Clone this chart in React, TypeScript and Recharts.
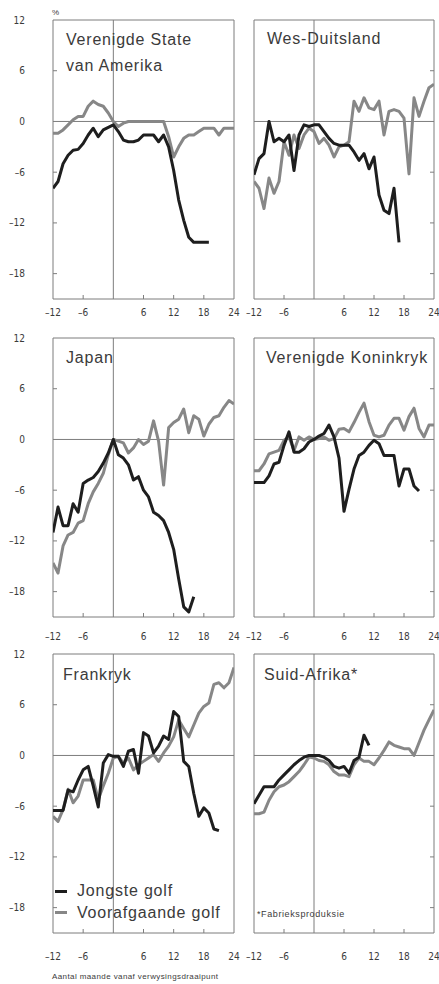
import React from 'react';
import { LineChart, Line, XAxis, YAxis, ReferenceLine, ReferenceArea } from 'recharts';

// months from the turning point
const months = [-12, -11, -10, -9, -8, -7, -6, -5, -4, -3, -2, -1, 0, 1, 2, 3, 4, 5, 6, 7, 8, 9, 10, 11, 12, 13, 14, 15, 16, 17, 18, 19, 20, 21, 22, 23, 24];
const xTicks = [-12, -6, 6, 12, 18, 24];
const yTicks = [-18, -12, -6, 0, 6, 12];

// series start at month -12; shorter arrays end early
const usLatest = [-7.9, -7.1, -5, -4, -3.4, -3.3, -2.6, -1.6, -0.8, -1.8, -1, -0.7, -0.4, -1.2, -2.2, -2.4, -2.4, -2.2, -1.6, -1.6, -1.6, -2.4, -1.6, -3, -5.8, -9.3, -11.7, -13.7, -14.3, -14.3, -14.3, -14.3];
const usPrevious = [-1.4, -1.4, -1, -0.4, 0.2, 0.6, 0.6, 1.8, 2.4, 2, 1.8, 1, 0, -0.6, -0.2, 0, 0, 0, 0, 0, 0, 0, 0, -1.8, -4.2, -3, -2, -1.6, -1.6, -1.2, -0.8, -0.8, -0.8, -1.6, -0.8, -0.8, -0.8];

const deLatest = [-6.3, -4.4, -3.8, 0, -2.4, -2, -2.4, -1.6, -5.8, -1.6, -0.4, -0.6, -0.4, -0.4, -1.2, -2, -2.6, -2.8, -2.8, -2.8, -3.6, -4.6, -3.8, -5.6, -4.2, -8.7, -10.5, -10.9, -7.9, -14.3];
const dePrevious = [-7.1, -7.9, -10.3, -6.7, -8.5, -7.1, -2.4, -4, -1.6, -3.2, -1.6, -0.8, -1.2, -2.6, -2, -2.8, -4.2, -3, -2.8, -2.4, 2.4, 1.2, 2.8, 1.6, 1.4, 2.4, -1.6, 1.2, 1.4, 1.2, 0.4, -6.2, 2.8, 0.6, 2.4, 4, 4.4];

const jpLatest = [-11, -8, -10.2, -10.2, -7.6, -8.6, -5.2, -4.8, -4.5, -3.8, -2.8, -1.6, 0, -1.8, -2.2, -3, -4.8, -4.4, -6, -6.8, -8.6, -9, -9.6, -11, -13, -16.5, -19.8, -20.4, -18.6];
const jpPrevious = [-14.6, -15.8, -12.6, -11.3, -11, -9.9, -9.6, -7.6, -6.2, -5.2, -4, -1.8, 0, -0.2, -0.4, -1.6, -1, 0, -0.6, -0.2, 2.2, -0.2, -5.4, 1.4, 2, 2.4, 3.6, 0.8, 2.8, 2.4, 0.4, 1.8, 2.6, 2.8, 3.8, 4.6, 4.2];

const ukLatest = [-5.1, -5.1, -5.1, -4.3, -2.9, -2.7, -0.7, 0.9, -1.5, -1.5, -1.1, -0.3, 0, 0.4, 0.7, 1.7, 0.3, -2.2, -8.5, -5.9, -3.5, -1.9, -1.5, -0.7, -0.1, -0.5, -1.9, -1.9, -1.9, -5.5, -3.5, -3.5, -5.5, -6.1];
const ukPrevious = [-3.7, -3.7, -2.9, -1.7, -1.5, -1.3, -0.1, 0.3, -1.3, 0.3, -0.1, 0.3, 0, 0.1, 0.3, -0.1, 0.1, 1.2, 1.3, 0.9, 2, 3.2, 4.3, 2.1, 0.5, 0.3, 0.5, 1.7, 2.5, 2.5, 1.1, 2.7, 3.7, 1.3, 0.3, 1.7, 1.7];

const frLatest = [-6.5, -6.5, -6.5, -4.1, -4.3, -2.9, -1.7, -1.3, -3.6, -6.1, -0.9, 0.1, -0.1, -0.1, -1.3, 0.5, 0.7, -2.1, 2.7, 2.3, 0.3, 1.1, 2.3, 1.9, 5.2, 4.6, -0.7, -1.3, -4.5, -7.2, -6.2, -6.8, -8.7, -8.9];
const frPrevious = [-7.2, -7.8, -6.4, -4, -5.6, -4.8, -2.9, -2.9, -2.9, -5.2, -3.6, -2.1, -0.3, -0.1, -0.9, -0.3, -1.7, -1.1, -0.7, -0.3, 0.1, -0.7, 0.3, 1.1, 2.2, 4.2, 3.2, 2.2, 3.6, 5, 5.8, 6.2, 8.4, 8.6, 8, 8.6, 10.4];

const zaLatest = [-5.7, -4.7, -3.7, -3.7, -3.7, -2.9, -2.3, -1.7, -1.1, -0.6, -0.2, 0, 0, 0, -0.2, -0.6, -1.3, -1.5, -1.3, -2.1, -0.6, -0.2, 2.4, 1.2];
const zaPrevious = [-6.9, -6.9, -6.7, -5.3, -4.3, -3.7, -3.5, -3.1, -2.5, -1.9, -1.1, -0.2, -0.3, -0.6, -0.7, -1.1, -1.9, -2.3, -2.3, -2.5, -1.1, -0.3, -0.7, -0.7, -1.1, -0.3, 0.6, 1.6, 1.2, 1, 0.8, 0.8, 0, 1.5, 3, 4.2, 5.4];

const FRAME = '#7d7d7d';
const TEXT = '#3b3b3b';
const NUM_FONT = '"Liberation Sans Narrow", "DejaVu Sans Condensed", sans-serif';
const TITLE_FONT = '"Liberation Sans", Arial, sans-serif';

// plot box: left column x 53..234, right column x 254..434
const COLS = [
  { left: 0, width: 240, yAxisW: 30, margin: { top: 20, right: 6, bottom: 1, left: 23 } },
  { left: 240, width: 199, yAxisW: 4, margin: { top: 20, right: 5, bottom: 1, left: 10 } },
];
const ROW_TOPS = [0, 318, 634];
const LABEL_DROP = [13, 19, 23];
const CHART_H = 330;
const X_AXIS_H = 30;

function buildRows(latest: number[], previous: number[]) {
  return months.map((m, i) => ({
    m,
    latest: i < latest.length ? latest[i] : null,
    previous: i < previous.length ? previous[i] : null,
  }));
}

const fmt = (v: number) => (v < 0 ? `\u2013${Math.abs(v)}` : `${v}`);

function Panel({ latest, previous, col, row }: { latest: number[], previous: number[], col: number, row: number }) {
  const c = COLS[col];
  const plotBottom = CHART_H - c.margin.bottom - X_AXIS_H;
  const plotLeft = c.margin.left + c.yAxisW;
  const plotRight = c.width - c.margin.right;
  const drop = LABEL_DROP[row];

  const XTick = (p: any) => {
    const v = p.payload.value;
    const inner = v !== -12 && v !== 24;
    return (
      <g>
        {inner && <line x1={p.x} x2={p.x} y1={plotBottom} y2={plotBottom - 4} stroke={FRAME} strokeWidth={1} />}
        <text x={p.x} y={plotBottom + drop + 3.5} textAnchor="middle" fontFamily={NUM_FONT} fontSize={10} fill={TEXT}>
          {fmt(v)}
        </text>
      </g>
    );
  };

  const YTick = (p: any) => {
    const v = p.payload.value;
    const inner = v !== 0 && v !== 12;
    return (
      <g>
        {inner && col === 0 && <line x1={plotLeft} x2={plotLeft + 4} y1={p.y} y2={p.y} stroke={FRAME} strokeWidth={1} />}
        {inner && col === 1 && <line x1={plotRight - 4} x2={plotRight} y1={p.y} y2={p.y} stroke={FRAME} strokeWidth={1} />}
        {col === 0 && (
          <text x={plotLeft - 28} y={p.y + 3.5} textAnchor="end" fontFamily={NUM_FONT} fontSize={10} fill={TEXT}>
            {fmt(v)}
          </text>
        )}
      </g>
    );
  };

  return (
    <div style={{ position: 'absolute', left: c.left, top: ROW_TOPS[row] }}>
      <LineChart width={c.width} height={CHART_H} data={buildRows(latest, previous)} margin={c.margin}>
        <XAxis dataKey="m" type="number" domain={[-12, 24]} ticks={xTicks} interval={0} height={X_AXIS_H}
          axisLine={false} tickLine={false} tick={<XTick />} allowDataOverflow />
        <YAxis type="number" domain={[-21, 12]} ticks={yTicks} interval={0} width={c.yAxisW}
          axisLine={false} tickLine={false} tick={<YTick />} allowDataOverflow />
        <ReferenceArea x1={-12} x2={24} y1={-21} y2={12} fill="none" stroke={FRAME} strokeWidth={1} />
        <ReferenceLine x={0} stroke={FRAME} strokeWidth={1} />
        <ReferenceLine y={0} stroke={FRAME} strokeWidth={1} />
        <Line type="linear" dataKey="previous" stroke="#878787" strokeWidth={3} dot={false}
          strokeLinejoin="round" isAnimationActive={false} />
        <Line type="linear" dataKey="latest" stroke="#1e1e1e" strokeWidth={3} dot={false}
          strokeLinejoin="round" isAnimationActive={false} />
      </LineChart>
    </div>
  );
}

function Label({ x, y, children, size = 16, spacing = 0.8 }: { x: number, y: number, children: React.ReactNode, size?: number, spacing?: number }) {
  return (
    <div style={{
      position: 'absolute', left: x, top: y, fontFamily: TITLE_FONT, fontSize: size,
      lineHeight: `${size}px`, letterSpacing: spacing, color: TEXT, whiteSpace: 'nowrap',
    }}>
      {children}
    </div>
  );
}

export default function App() {
  return (
    <div style={{ position: 'absolute', left: 0, top: 0, width: 439, height: 984, background: '#fff', overflow: 'hidden' }}>
      <Panel latest={usLatest} previous={usPrevious} col={0} row={0} />
      <Panel latest={deLatest} previous={dePrevious} col={1} row={0} />
      <Panel latest={jpLatest} previous={jpPrevious} col={0} row={1} />
      <Panel latest={ukLatest} previous={ukPrevious} col={1} row={1} />
      <Panel latest={frLatest} previous={frPrevious} col={0} row={2} />
      <Panel latest={zaLatest} previous={zaPrevious} col={1} row={2} />

      <Label x={52} y={9} size={8} spacing={0}>%</Label>
      <Label x={66} y={32}>Verenigde State</Label>
      <Label x={66} y={58}>van Amerika</Label>
      <Label x={267} y={31}>Wes-Duitsland</Label>
      <Label x={66} y={350}>Japan</Label>
      <Label x={266} y={350}>Verenigde Koninkryk</Label>
      <Label x={63} y={667}>Frankryk</Label>
      <Label x={264} y={667}>Suid-Afrika*</Label>

      <div style={{ position: 'absolute', left: 55, top: 890, width: 12, height: 3, background: '#1e1e1e' }} />
      <div style={{ position: 'absolute', left: 55, top: 911, width: 12, height: 3, background: '#878787' }} />
      <Label x={77} y={883}>Jongste golf</Label>
      <Label x={77} y={905}>Voorafgaande golf</Label>
      <Label x={257} y={910} size={9} spacing={0.6}>*Fabrieksproduksie</Label>

      <Label x={52} y={973} size={8} spacing={0.4}>Aantal maande vanaf verwysingsdraaipunt</Label>
    </div>
  );
}
